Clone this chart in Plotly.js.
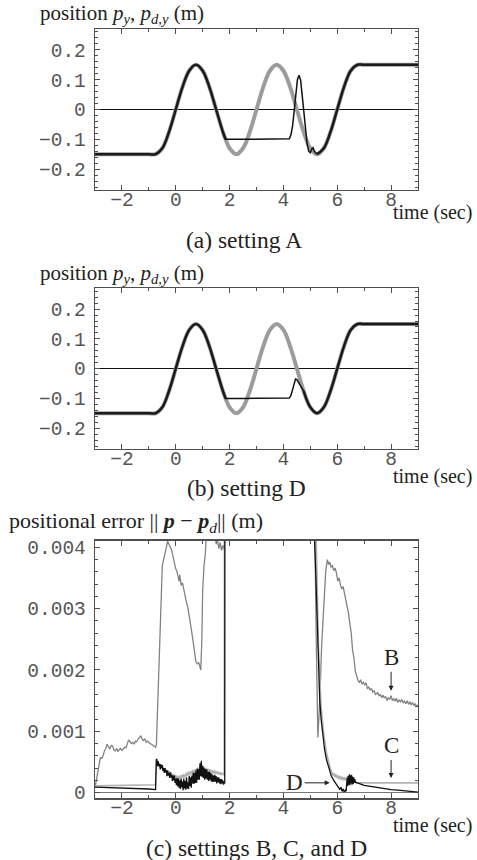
<!DOCTYPE html>
<html>
<head>
<meta charset="utf-8">
<script src="https://cdn.plot.ly/plotly-3.0.1.min.js"></script>
<style>html,body{margin:0;padding:0;background:#fff;}#chart{width:477px;height:860px;}</style>
</head>
<body>
<div id="chart"></div>
<script>
// ---------- data ----------
const timeTicks = [-2, 0, 2, 4, 6, 8];
const posTicks = [-0.2, -0.1, 0, 0.1, 0.2];
const posTickText = ['\u22120.2', '\u22120.1', '0', '0.1', '0.2'];
const errTicks = [0, 0.001, 0.002, 0.003, 0.004];
const errTickText = ['0', '0.001', '0.002', '0.003', '0.004'];

// desired trajectory p_{d,y}
const tRef = [-3, -1, -0.75, -0.5, -0.25, 0, 0.25, 0.5, 0.75, 1, 1.25, 1.5, 1.75, 1.85, 2, 2.25, 2.5, 2.75, 3, 3.25, 3.5, 3.75, 4, 4.25, 4.5, 4.75, 5, 5.25, 5.5, 5.75, 6, 6.25, 6.5, 6.75, 7, 9];
const pRef = [-0.15, -0.15, -0.15, -0.13, -0.075, 0, 0.075, 0.13, 0.15, 0.13, 0.075, 0, -0.075, -0.1, -0.13, -0.15, -0.13, -0.075, 0, 0.075, 0.13, 0.15, 0.13, 0.075, 0, -0.075, -0.13, -0.15, -0.13, -0.075, 0, 0.075, 0.13, 0.15, 0.15, 0.15];

// actual p_y where it leaves the desired path
const tActA = [1.75, 1.85, 2.5, 3.5, 4.15, 4.22, 4.28, 4.34, 4.4, 4.46, 4.52, 4.58, 4.64, 4.7, 4.76, 4.82, 4.88, 4.94, 5.0, 5.05, 5.1, 5.15, 5.2, 5.25];
const pActA = [-0.075, -0.1, -0.1, -0.1, -0.1, -0.098, -0.085, -0.055, -0.005, 0.055, 0.1, 0.115, 0.098, 0.045, -0.015, -0.07, -0.115, -0.14, -0.145, -0.133, -0.128, -0.14, -0.147, -0.15];
const trackA = [1.85, 5.25];   // tracking lost / regained (setting A)

const tActD = [1.75, 1.85, 2.5, 3.5, 4.15, 4.22, 4.28, 4.34, 4.4, 4.45, 4.5, 4.56, 4.62, 4.68, 4.75];
const pActD = [-0.075, -0.1, -0.1, -0.1, -0.1, -0.099, -0.09, -0.068, -0.045, -0.035, -0.037, -0.046, -0.055, -0.064, -0.075];
const trackD = [1.85, 4.75];

// positional error, settings B, C, D  ([time, error in m])
const errB = [[-3,0.00008],[-2.95,0.0002],[-2.9,0.00035],[-2.85,0.00048],[-2.8,0.00057],[-2.75,0.00056],[-2.7,0.0006],[-2.65,0.00068],[-2.6,0.00072],[-2.55,0.00079],[-2.5,0.00074],[-2.45,0.00071],[-2.4,0.00077],[-2.35,0.00076],[-2.3,0.0007],[-2.25,0.00068],[-2.2,0.00072],[-2.15,0.00067],[-2.1,0.0007],[-2.05,0.00072],[-2.0,0.00069],[-1.95,0.00071],[-1.9,0.00074],[-1.85,0.00073],[-1.8,0.00082],[-1.75,0.00086],[-1.7,0.00083],[-1.65,0.0008],[-1.6,0.00082],[-1.55,0.00079],[-1.5,0.00084],[-1.45,0.00083],[-1.4,0.00087],[-1.35,0.0009],[-1.3,0.00093],[-1.25,0.00087],[-1.2,0.00085],[-1.15,0.00088],[-1.1,0.00082],[-1.05,0.00084],[-1.0,0.00081],[-0.95,0.0008],[-0.9,0.00079],[-0.85,0.00077],[-0.8,0.00076],[-0.75,0.00074],[-0.72,0.00078],[-0.65,0.0018],[-0.6,0.0026],[-0.55,0.0033],[-0.5,0.0037],[-0.45,0.0038],[-0.4,0.0039],[-0.35,0.00405],[-0.3,0.0041],[-0.25,0.00405],[-0.2,0.004],[-0.15,0.00395],[-0.1,0.00385],[-0.05,0.00372],[0,0.00365],[0.05,0.0036],[0.1,0.00352],[0.12,0.00345],[0.15,0.00355],[0.2,0.00338],[0.25,0.00342],[0.3,0.0033],[0.35,0.00322],[0.4,0.0031],[0.45,0.00302],[0.5,0.0029],[0.55,0.00275],[0.6,0.0026],[0.65,0.00245],[0.7,0.0023],[0.75,0.00213],[0.8,0.0021],[0.85,0.00212],[0.9,0.00205],[0.93,0.002],[0.97,0.0025],[1.0,0.0033],[1.05,0.0037],[1.1,0.0039],[1.15,0.0043],[1.3,0.0048],[1.45,0.0043],[1.5,0.00405],[1.55,0.00412],[1.6,0.00398],[1.65,0.00408],[1.7,0.00395],[1.75,0.00403],[1.8,0.00396],[1.85,0.0045],[1.95,0.01],[5.0,0.01],[5.15,0.0045],[5.22,0.0025],[5.28,0.0009],[5.35,0.0015],[5.42,0.0024],[5.5,0.0031],[5.57,0.0036],[5.63,0.0038],[5.68,0.00372],[5.72,0.00376],[5.77,0.00368],[5.82,0.0037],[5.87,0.00362],[5.92,0.00366],[5.97,0.00358],[6.02,0.00345],[6.07,0.0035],[6.12,0.00338],[6.17,0.00332],[6.22,0.00336],[6.27,0.00325],[6.32,0.0032],[6.37,0.00305],[6.42,0.00292],[6.47,0.00275],[6.52,0.0026],[6.57,0.00232],[6.62,0.0022],[6.67,0.00198],[6.72,0.0019],[6.77,0.00183],[6.82,0.0018],[6.87,0.00184],[6.92,0.00177],[6.97,0.0018],[7.02,0.00176],[7.07,0.00179],[7.12,0.0017],[7.17,0.00172],[7.22,0.00167],[7.27,0.0017],[7.32,0.00164],[7.37,0.00166],[7.42,0.0016],[7.5,0.00163],[7.55,0.00158],[7.6,0.0016],[7.65,0.00155],[7.7,0.00159],[7.75,0.00154],[7.8,0.00157],[7.85,0.0015],[7.9,0.00155],[7.95,0.00152],[8.0,0.00158],[8.05,0.0015],[8.1,0.00153],[8.15,0.00149],[8.2,0.00154],[8.25,0.00147],[8.3,0.00151],[8.35,0.00148],[8.4,0.00152],[8.45,0.00146],[8.5,0.00149],[8.55,0.00145],[8.6,0.0015],[8.65,0.00144],[8.7,0.00148],[8.75,0.00143],[8.8,0.00147],[8.85,0.00142],[8.9,0.00145],[8.95,0.0014],[9.0,0.00143]];

const errC = [[-3,0.00011],[-2,0.00012],[-1,0.00013],[-0.75,0.00013],[-0.72,0.0005],[-0.69,0.00045],[-0.65,0.00049],[-0.61,0.00042],[-0.58,0.00045],[-0.53,0.0004],[-0.49,0.00042],[-0.45,0.00036],[-0.42,0.0004],[-0.37,0.00035],[-0.33,0.00037],[-0.29,0.00031],[-0.25,0.00035],[-0.2,0.0003],[-0.17,0.00033],[-0.12,0.00027],[-0.09,0.0003],[-0.04,0.00025],[0,0.00029],[0.03,0.00023],[0.07,0.00027],[0.11,0.00022],[0.15,0.00028],[0.19,0.00023],[0.23,0.00029],[0.27,0.00024],[0.3,0.0003],[0.35,0.00025],[0.39,0.00032],[0.43,0.00027],[0.47,0.00034],[0.51,0.00028],[0.55,0.00035],[0.59,0.0003],[0.63,0.00037],[0.67,0.00031],[0.71,0.00038],[0.75,0.00033],[0.79,0.0004],[0.83,0.00035],[0.87,0.00041],[0.91,0.00036],[0.95,0.00043],[0.99,0.00037],[1.03,0.00041],[1.07,0.00035],[1.11,0.0004],[1.15,0.00034],[1.19,0.00039],[1.23,0.00033],[1.27,0.00038],[1.31,0.00032],[1.35,0.00037],[1.39,0.00031],[1.43,0.00036],[1.47,0.00031],[1.51,0.00035],[1.55,0.0003],[1.59,0.00034],[1.63,0.00029],[1.67,0.00033],[1.71,0.00029],[1.75,0.00032],[1.8,0.00028],[1.82,0.01],[5.0,0.01],[5.2,0.0045],[5.3,0.0024],[5.4,0.0014],[5.5,0.00095],[5.6,0.00065],[5.7,0.00045],[5.75,0.00038],[5.8,0.00033],[5.84,0.00028],[5.88,0.00032],[5.91,0.00025],[5.95,0.0003],[5.99,0.00024],[6.03,0.00028],[6.07,0.00022],[6.11,0.00027],[6.15,0.00021],[6.19,0.00026],[6.23,0.0002],[6.27,0.00025],[6.31,0.0002],[6.35,0.00024],[6.4,0.00027],[6.44,0.00022],[6.48,0.00028],[6.52,0.00023],[6.56,0.00026],[6.6,0.00021],[6.65,0.00018],[6.7,0.00016],[7.0,0.00016],[8.0,0.00016],[9.0,0.00016]];

const errD = [[-3,0.00009],[-2,0.00008],[-1,0.00006],[-0.75,0.00005],[-0.72,0.00055],[-0.7,0.00054],[-0.675,0.00043],[-0.65,0.00051],[-0.625,0.00043],[-0.6,0.00047],[-0.575,0.00038],[-0.55,0.00046],[-0.525,0.0004],[-0.5,0.00045],[-0.475,0.00035],[-0.45,0.0004],[-0.425,0.00032],[-0.4,0.0004],[-0.375,0.00033],[-0.35,0.00037],[-0.325,0.00027],[-0.3,0.00036],[-0.275,0.00028],[-0.25,0.00032],[-0.225,0.00024],[-0.2,0.00033],[-0.175,0.00025],[-0.15,0.00029],[-0.125,0.00019],[-0.1,0.00028],[-0.075,0.0002],[-0.05,0.00028],[-0.025,0.00016],[0,0.00023],[0.025,0.00012],[0.05,0.00024],[0.075,0.0001],[0.1,0.00023],[0.125,0.00008],[0.15,0.0002],[0.175,0.00006],[0.2,0.00023],[0.225,0.00009],[0.25,0.00018],[0.275,0.00004],[0.3,0.00023],[0.325,0.00007],[0.35,0.00019],[0.375,0.00005],[0.4,0.00025],[0.425,0.00007],[0.45,0.00017],[0.475,0.00006],[0.5,0.00027],[0.525,0.00011],[0.55,0.00025],[0.575,0.00008],[0.6,0.00028],[0.625,0.00015],[0.65,0.00033],[0.675,0.00014],[0.7,0.00032],[0.725,0.00016],[0.75,0.00036],[0.775,0.00016],[0.8,0.00039],[0.825,0.00021],[0.85,0.00038],[0.875,0.00021],[0.9,0.00048],[0.925,0.00027],[0.95,0.00052],[0.975,0.00026],[1.0,0.00044],[1.025,0.00024],[1.05,0.00041],[1.075,0.00021],[1.1,0.00038],[1.125,0.00023],[1.15,0.00038],[1.175,0.00021],[1.2,0.00034],[1.225,0.00019],[1.25,0.00034],[1.275,0.00021],[1.3,0.00032],[1.325,0.00018],[1.35,0.0003],[1.375,0.00018],[1.4,0.00028],[1.425,0.00018],[1.45,0.00029],[1.475,0.00018],[1.5,0.00027],[1.525,0.00015],[1.55,0.00025],[1.575,0.00017],[1.6,0.00025],[1.625,0.00015],[1.65,0.00022],[1.675,0.00014],[1.7,0.00022],[1.725,0.00015],[1.75,0.0002],[1.775,0.00013],[1.8,0.00018],[1.82,0.00015],[1.83,0.01],[5.0,0.01],[5.15,0.0042],[5.2,0.0036],[5.25,0.0029],[5.3,0.0021],[5.35,0.0015],[5.4,0.0012],[5.47,0.00088],[5.53,0.0007],[5.6,0.00054],[5.68,0.0004],[5.78,0.00027],[5.87,0.0002],[5.96,0.00014],[6.05,0.00008],[6.1,0.00005],[6.14,0.00009],[6.18,0.00002],[6.22,0.00006],[6.26,0.00001],[6.3,0.00004],[6.33,0.00002],[6.35,0.00014],[6.37,0.00024],[6.39,0.00011],[6.41,0.00027],[6.43,0.00013],[6.45,0.0003],[6.47,0.00012],[6.49,0.00028],[6.51,0.00015],[6.53,0.00029],[6.55,0.00013],[6.57,0.00026],[6.59,0.00014],[6.61,0.00025],[6.63,0.00016],[6.65,0.00022],[6.68,0.00017],[6.72,0.00016],[6.8,0.00015],[7.0,0.00012],[7.25,0.0001],[7.5,0.00008],[7.75,0.00006],[8.0,0.00005],[8.25,0.00004],[8.5,0.00003],[8.75,0.00002],[9.0,0.00001]];

// ---------- styling ----------
const W = 477, H = 860;
const SERIF = '"Liberation Serif", "Times New Roman", serif';
const MONO = '"Liberation Mono", "Courier New", monospace';
const FRAME = '#505050';
const GRAY_THICK = '#9c9c9c';

function px2x(p) { return p / W; }
function px2y(p) { return 1 - p / H; }

function xAxis(anchor) {
  return {
    anchor: anchor, domain: [px2x(95), px2x(418)], range: [-3, 9],
    showline: true, linecolor: FRAME, linewidth: 1.3, mirror: 'allticks',
    ticks: 'inside', ticklen: 5, tickwidth: 1, tickcolor: FRAME,
    tickvals: timeTicks, ticktext: timeTicks.map(v => v < 0 ? '\u2212' + Math.abs(v) : String(v)),
    ticklabelstandoff: -9,
    tickfont: { family: MONO, size: 19.5, color: '#555' },
    minor: { ticks: 'inside', ticklen: 3, dtick: 1, tickcolor: FRAME, tickwidth: 1 },
    showgrid: false, zeroline: false, fixedrange: true
  };
}
function yAxis(anchor, top, bottom, range, vals, text, minorD, zc) {
  return {
    anchor: anchor, domain: [px2y(bottom), px2y(top)], range: range,
    showline: true, linecolor: FRAME, linewidth: 1.3, mirror: 'allticks',
    ticks: 'inside', ticklen: 5, tickwidth: 1, tickcolor: FRAME,
    tickvals: vals, ticktext: text, ticklabelstandoff: 4,
    tickfont: { family: MONO, size: 19.5, color: '#555' },
    minor: { ticks: 'inside', ticklen: 3, dtick: minorD, tickcolor: FRAME, tickwidth: 1 },
    showgrid: false, zeroline: true, zerolinecolor: zc, zerolinewidth: 1.2, fixedrange: true
  };
}

function trackMask(win, t, p) {
  return p.map((v, i) => (t[i] <= win[0] || t[i] >= win[1]) ? v : null);
}

const traces = [];
function posPanel(xa, ya, tAct, pAct, win) {
  traces.push({ x: tRef, y: pRef, xaxis: xa, yaxis: ya, mode: 'lines',
    line: { color: GRAY_THICK, width: 4, shape: 'spline', smoothing: 1 }, hoverinfo: 'skip' });
  traces.push({ x: tAct, y: pAct, xaxis: xa, yaxis: ya, mode: 'lines',
    line: { color: '#111', width: 1.5 }, hoverinfo: 'skip' });
  traces.push({ x: tRef, y: trackMask(win, tRef, pRef), xaxis: xa, yaxis: ya, mode: 'lines',
    connectgaps: false, line: { color: '#1a1a1a', width: 2.5, shape: 'spline', smoothing: 1 }, hoverinfo: 'skip' });
}
posPanel('x', 'y', tActA, pActA, trackA);
posPanel('x2', 'y2', tActD, pActD, trackD);

const errSeries = [[errB, '#828282', 1.3], [errC, '#b2b2b2', 1.6], [errD, '#111', 1.3]];
errSeries.forEach(([d, c, w]) => traces.push({
  x: d.map(r => r[0]), y: d.map(r => r[1]), xaxis: 'x3', yaxis: 'y3', mode: 'lines',
  line: { color: c, width: w }, hoverinfo: 'skip'
}));

function txt(text, x, y, size) {
  return { xref: 'paper', yref: 'paper', x: px2x(x), y: px2y(y), text: text, showarrow: false,
    xanchor: 'center', yanchor: 'middle', font: { family: SERIF, size: size, color: '#222' } };
}
const posTitle = 'position <i>p</i><sub><i>y</i></sub>, <i>p</i><sub><i>d,y</i></sub> (m)';
const errTitle = 'positional error || <b><i>p</i></b> \u2212 <b><i>p</i></b><sub><i>d</i></sub>|| (m)';

const annotations = [
  txt(posTitle, 122, 14, 21),
  txt('time (sec)', 432, 213, 20),
  txt('(a) setting A', 244, 240, 23.5),
  txt(posTitle, 122, 274, 21),
  txt('time (sec)', 432, 476, 20),
  txt('(b) setting D', 246, 488, 23.5),
  txt(errTitle, 136, 522, 22),
  txt('time (sec)', 432, 825, 20),
  txt('(c) settings B, C, and D', 256, 848, 23.5),
  { xref: 'x3', yref: 'y3', x: 8, y: 0.00166, text: 'B', showarrow: true, ax: 0, ay: -33,
    arrowhead: 2, arrowsize: 1, arrowwidth: 1, arrowcolor: '#222', standoff: 0,
    font: { family: SERIF, size: 23, color: '#222' } },
  { xref: 'x3', yref: 'y3', x: 8, y: 0.00024, text: 'C', showarrow: true, ax: 0, ay: -32,
    arrowhead: 2, arrowsize: 1, arrowwidth: 1, arrowcolor: '#222', standoff: 0,
    font: { family: SERIF, size: 23, color: '#222' } },
  { xref: 'x3', yref: 'y3', x: 5.72, y: 0.00016, text: 'D', showarrow: true, ax: -35, ay: 0,
    arrowhead: 2, arrowsize: 1, arrowwidth: 1, arrowcolor: '#222', standoff: 0,
    font: { family: SERIF, size: 23, color: '#222' } }
];

const layout = {
  width: W, height: H, margin: { l: 0, r: 0, t: 0, b: 0 },
  paper_bgcolor: '#fff', plot_bgcolor: '#fff', showlegend: false,
  xaxis: xAxis('y'), yaxis: yAxis('x', 29, 190, [-0.27, 0.27], posTicks, posTickText, 0.02, '#111'),
  xaxis2: xAxis('y2'), yaxis2: yAxis('x2', 288.3, 449, [-0.27, 0.27], posTicks, posTickText, 0.02, '#111'),
  xaxis3: xAxis('y3'), yaxis3: yAxis('x3', 540.7, 798.3, [-0.000092, 0.004108], errTicks, errTickText, 0.0002, '#777'),
  annotations: annotations
};

Plotly.newPlot('chart', traces, layout, { displayModeBar: false, staticPlot: true });
</script>
</body>
</html>
